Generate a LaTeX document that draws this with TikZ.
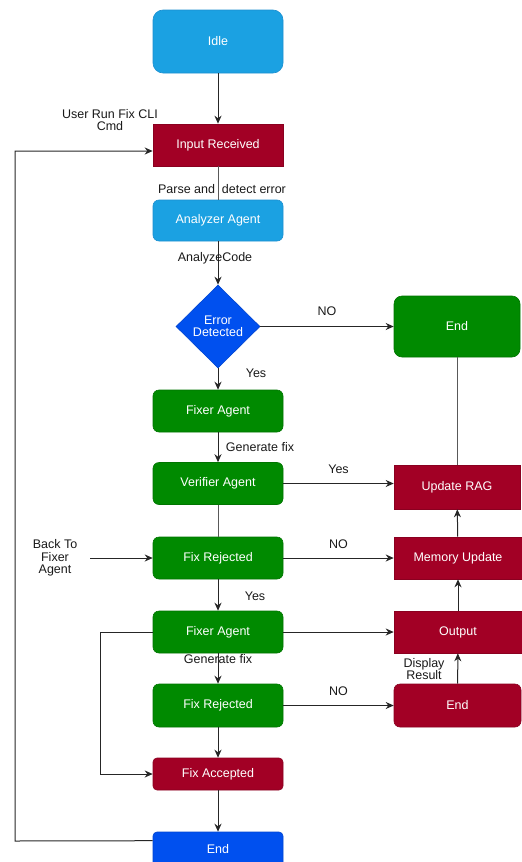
\documentclass[tikz,border=0pt]{standalone}
\usepackage{fontspec}
\setmainfont{Liberation Sans}
\usetikzlibrary{arrows.meta,shapes.geometric,calc}
\definecolor{lblue}{HTML}{1BA1E2}
\definecolor{lbluestroke}{HTML}{1B8FD0}
\definecolor{dred}{HTML}{A20025}
\definecolor{dredstroke}{HTML}{8A0020}
\definecolor{dgreen}{HTML}{008A00}
\definecolor{dgreenstroke}{HTML}{007500}
\definecolor{vblue}{HTML}{0050EF}
\definecolor{vbluestroke}{HTML}{0045D0}
\begin{document}
\begin{tikzpicture}[x=1pt,y=-1pt,font=\fontsize{12.5}{14.5}\selectfont]
\tikzset{
  box/.style={draw, line width=0.6pt, text=white, minimum width=130pt, minimum height=42pt, inner sep=2pt, align=center},
  bluebox/.style={box, fill=lblue, draw=lbluestroke, rounded corners=6pt},
  redbox/.style={box, fill=dred, draw=dredstroke},
  greenbox/.style={box, fill=dgreen, draw=dgreenstroke, rounded corners=6pt},
  arr/.style={draw=black!85, line width=1pt, -{Stealth[length=8pt,width=7pt]}},
  plainline/.style={draw=black!65, line width=1pt},
  lbl/.style={text=black!90, align=center, inner sep=1pt}
}
\useasboundingbox (0,0) rectangle (522,862);

% nodes
\node[bluebox, minimum height=63pt, rounded corners=10pt] (idle) at (218,41.5) {Idle};
\node[redbox] (inp) at (218,145) {Input Received};
\node[bluebox, minimum height=41pt] (ana) at (218,220.5) {Analyzer Agent};
\node[shape=diamond, fill=vblue, draw=vbluestroke, line width=0.6pt, text=white, minimum width=84pt, minimum height=83pt, inner sep=0pt, align=center] (err) at (218,326.5) {Error\\[-2pt]Detected};
\node[greenbox, minimum width=126pt, minimum height=61pt, rounded corners=8pt] (endg) at (457,326.5) {End};
\node[greenbox] (fix1) at (218,411) {Fixer Agent};
\node[greenbox] (ver) at (218,483.5) {Verifier Agent};
\node[redbox, minimum width=126pt, minimum height=44pt] (rag) at (457,487) {Update RAG};
\node[greenbox] (rej1) at (218,558) {Fix Rejected};
\node[redbox, minimum width=128pt] (mem) at (458,558) {Memory Update};
\node[greenbox] (fix2) at (218,632) {Fixer Agent};
\node[redbox, minimum width=128pt] (out) at (458,632) {Output};
\node[greenbox, minimum height=43pt] (rej2) at (218,705.5) {Fix Rejected};
\node[redbox, minimum width=127pt, minimum height=43pt, rounded corners=6pt] (endr) at (457.5,705.5) {End};
\node[redbox, minimum height=32pt, rounded corners=4pt] (acc) at (218,774) {Fix Accepted};
\node[box, fill=vblue, draw=vbluestroke, minimum height=34pt, rounded corners=4pt] (endb) at (218,849) {End};

% free labels
\node[lbl] (user) at (110,120) {User Run Fix CLI\\[-2pt]Cmd};
\node[lbl] (back) at (55,558) {Back To\\[-2pt]Fixer\\[-2pt]Agent};
\coordinate (backstart) at (90,558);

% connectors
\draw[arr] (idle) -- (inp);
\draw[plainline] (inp) -- (ana);
\node[lbl] at (222,189) {Parse and \ detect error};
\draw[arr] (ana) -- (err);
\node[lbl] at (215,258) {AnalyzeCode};
\draw[arr] (err) -- node[lbl, above=9pt] {NO} (endg);
\draw[arr] (err) -- (fix1);
\node[lbl] at (256,373) {Yes};
\draw[plainline] (endg) -- (rag);
\draw[arr] (fix1) -- (ver);
\node[lbl] at (260,447) {Generate fix};
\draw[arr] (ver.east) -- node[lbl, above=8pt] {Yes} (ver.east -| rag.west);
\draw[plainline] (ver) -- (rej1);
\draw[arr] (backstart) -- (rej1);
\draw[arr] (rej1) -- node[lbl, above=8pt] {NO} (mem);
\draw[arr] (mem) -- (rag);
\draw[arr] (rej1) -- (fix2);
\node[lbl] at (255,596) {Yes};
\draw[arr] (fix2) -- (out);
\draw[arr] (out) -- (mem);
\draw[arr] (fix2) -- (rej2);
\node[lbl] at (218,659) {Generate fix};
\draw[arr] (rej2) -- node[lbl, above=8pt] {NO} (endr);
\draw[arr] (endr) -- (out);
\node[lbl] at (424,669) {Display\\[-2pt]Result};
\draw[arr] (rej2) -- (acc);
\draw[arr] (acc) -- (endb);
\draw[arr] (fix2.west) -- (100,632) -- (100,774) -- (acc.west);
\draw[arr] ($(endb.north west)+(0,9)$) -- (15,841) -- (15,151) -- ($(inp.west)+(0,6)$);
\end{tikzpicture}
\end{document}
